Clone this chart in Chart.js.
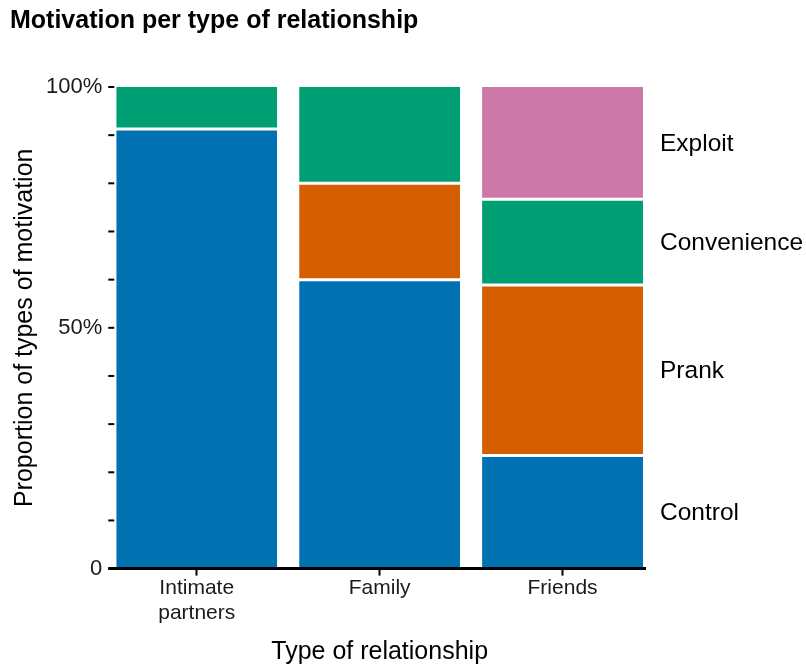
<!DOCTYPE html>
<html>
<head>
<meta charset="utf-8">
<script src="https://cdn.jsdelivr.net/npm/chart.js@4"></script>
<style>
  body { margin: 0; background: #fff; }
  #wrap { width: 806px; height: 668px; }
</style>
</head>
<body>
<div id="wrap"><canvas id="motivationChart"></canvas></div>
<script>
// data (percent of each relationship type)
const relationships = [['Intimate', 'partners'], 'Family', 'Friends'];
const motivations = ['Control', 'Prank', 'Convenience', 'Exploit'];
const control = [91.3, 60, 23.5];
const prank = [null, 20, 35.4];
const convenience = [8.7, 20, 17.8];
const exploit = [null, null, 23.3];
const colors = ['#0072B2', '#D55E00', '#009E73', '#CC79A7'];
const yTickLabels = { 0: '0', 50: '50%', 100: '100%' };

const seriesValues = [control, prank, convenience, exploit];
const FONT = "'Liberation Sans', Arial, sans-serif";

// white gap between stacked segments
function segmentBorder(ctx) {
    const di = ctx.datasetIndex;
    const idx = ctx.dataIndex;
    let isTop = true;
    for (let k = di + 1; k < seriesValues.length; k++) {
        if (seriesValues[k][idx] != null) isTop = false;
    }
    return { top: isTop ? 0 : 1.5, bottom: di === 0 ? 0 : 1.5, left: 0, right: 0 };
}

// axis line + y ticks + labels to the right of the last bar
const axisAndLabels = {
    id: 'axisAndLabels',
    afterDatasetsDraw(chart) {
        const ctx = chart.ctx;
        const area = chart.chartArea;
        const y = chart.scales.y;
        ctx.save();
        ctx.strokeStyle = '#000';
        ctx.lineWidth = 2;
        y.ticks.forEach(t => {
            const py = y.getPixelForValue(t.value);
            ctx.beginPath();
            ctx.moveTo(area.left + 3, py);
            ctx.lineTo(area.left + 9, py);
            ctx.stroke();
        });
        ctx.lineWidth = 3;
        ctx.beginPath();
        ctx.moveTo(area.left + 3, y.getPixelForValue(0));
        ctx.lineTo(area.right - 8, y.getPixelForValue(0));
        ctx.stroke();

        ctx.fillStyle = '#000';
        ctx.font = '24.5px ' + FONT;
        ctx.textBaseline = 'middle';
        ctx.textAlign = 'left';
        const last = relationships.length - 1;
        motivations.forEach((name, i) => {
            const bar = chart.getDatasetMeta(i).data[last];
            if (!bar || seriesValues[i][last] == null) return;
            ctx.fillText(name, area.right + 6, (bar.y + bar.base) / 2 + 1);
        });
        ctx.restore();
    }
};

const chart = new Chart(document.getElementById('motivationChart'), {
    type: 'bar',
    data: {
        labels: relationships,
        datasets: motivations.map((name, i) => ({
            label: name,
            data: seriesValues[i],
            backgroundColor: colors[i],
            borderColor: '#fff',
            borderWidth: segmentBorder,
            borderSkipped: false,
            barPercentage: 0.88,
            categoryPercentage: 1
        }))
    },
    options: {
        responsive: true,
        maintainAspectRatio: false,
        animation: false,
        layout: { padding: { left: 10, right: 152, top: 0, bottom: 1 } },
        plugins: {
            legend: { display: false },
            tooltip: { enabled: false },
            title: {
                display: true,
                text: 'Motivation per type of relationship',
                align: 'start',
                color: '#000',
                font: { family: FONT, size: 25, weight: 'bold' },
                padding: { top: 6, bottom: 51 }
            }
        },
        scales: {
            x: {
                stacked: true,
                grid: { display: true, drawOnChartArea: false, offset: false, tickLength: 7, tickWidth: 2, tickColor: '#000' },
                border: { display: false },
                ticks: { color: '#1a1a1a', font: { family: FONT, size: 21 }, padding: 0, maxRotation: 0 },
                title: {
                    display: true,
                    text: 'Type of relationship',
                    color: '#000',
                    font: { family: FONT, size: 25 },
                    padding: { top: 11, bottom: 0 }
                }
            },
            y: {
                stacked: true,
                min: 0,
                max: 100,
                grid: { display: false, drawTicks: false },
                border: { display: false },
                ticks: {
                    stepSize: 10,
                    autoSkip: false,
                    color: '#1a1a1a',
                    font: { family: FONT, size: 22 },
                    padding: 3,
                    callback: v => yTickLabels[v] !== undefined ? yTickLabels[v] : ''
                },
                title: {
                    display: true,
                    text: 'Proportion of types of motivation',
                    color: '#000',
                    font: { family: FONT, size: 25 },
                    padding: { top: 0, bottom: 3 }
                }
            }
        }
    },
    plugins: [axisAndLabels]
});
</script>
</body>
</html>
